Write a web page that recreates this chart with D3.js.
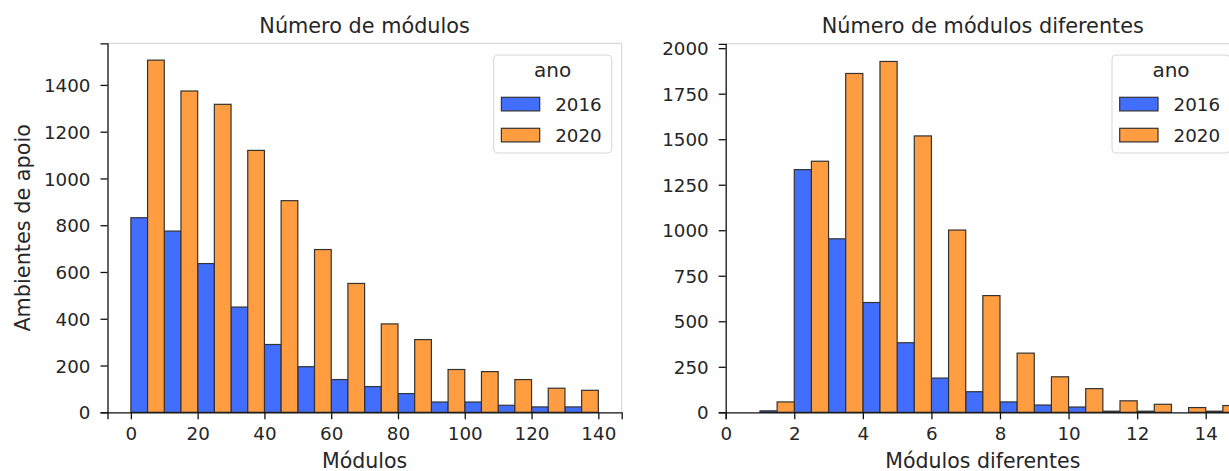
<!DOCTYPE html>
<html>
<head>
<meta charset="utf-8">
<script src="https://cdn.jsdelivr.net/npm/d3@7"></script>
<style>
  html, body { margin: 0; padding: 0; background: #fff; }
  svg { display: block; font-family: "DejaVu Sans", sans-serif; }
</style>
</head>
<body>
<svg id="chart" width="1229" height="471"></svg>
<script>
// ---------- data ----------
const years = ["2016", "2020"];

// Panel 1: Número de módulos (bins of width 10 starting at these values)
const modBinStarts = [0, 10, 20, 30, 40, 50, 60, 70, 80, 90, 100, 110, 120, 130];
const mod2016 = [832, 775, 636, 450, 290, 195, 140, 110, 80, 44, 44, 30, 23, 23];
const mod2020 = [1506, 1374, 1317, 1120, 905, 696, 551, 378, 311, 183, 174, 140, 103, 94];
const modTicksX = [0, 20, 40, 60, 80, 100, 120, 140];
const modTicksY = [0, 200, 400, 600, 800, 1000, 1200, 1400];

// Panel 2: Número de módulos diferentes (bins of width 1 starting at these values)
const difBinStarts = [1, 2, 3, 4, 5, 6, 7, 8, 9, 10, 11, 12, 13, 14];
const dif2016 = [8, 1333, 953, 603, 382, 188, 113, 57, 40, 29, 6, 6, 0, 6];
const dif2020 = [57, 1379, 1861, 1927, 1518, 1001, 641, 325, 195, 130, 63, 44, 26, 37];
const difTicksX = [0, 2, 4, 6, 8, 10, 12, 14];
const difTicksY = [0, 250, 500, 750, 1000, 1250, 1500, 1750, 2000];

const colors = { "2016": "#416eff", "2020": "#ff9d40" };
const edge = "#333333";
const textColor = "#262626";

const svg = d3.select("#chart");

function panel(opts) {
  const { left, right, top, bottom, xDomain, yDomain, binStarts, binWidth,
          s2016, s2020, ticksX, ticksY, title, xlabel, ylabel } = opts;
  const x = d3.scaleLinear().domain(xDomain).range([left, right]);
  const y = d3.scaleLinear().domain(yDomain).range([bottom, top]);
  const g = svg.append("g");

  // bars
  const half = binWidth / 2;
  const series = [
    { key: "2016", vals: s2016, off: 0 },
    { key: "2020", vals: s2020, off: half }
  ];
  series.forEach(s => {
    g.append("g").selectAll("rect")
      .data(binStarts.map((b, i) => ({ b, v: s.vals[i] })).filter(d => d.v > 0))
      .join("rect")
      .attr("x", d => x(d.b + s.off))
      .attr("width", d => x(d.b + s.off + half) - x(d.b + s.off))
      .attr("y", d => y(d.v))
      .attr("height", d => y(0) - y(d.v))
      .attr("fill", colors[s.key])
      .attr("stroke", edge)
      .attr("stroke-width", 1.2);
  });

  // top & right light spines
  g.append("line").attr("x1", left).attr("x2", right).attr("y1", top).attr("y2", top)
    .attr("stroke", "#cfcfcf").attr("stroke-width", 1);
  g.append("line").attr("x1", right).attr("x2", right).attr("y1", top).attr("y2", bottom)
    .attr("stroke", "#cfcfcf").attr("stroke-width", 1);

  // axes
  const ax = g.append("g").attr("transform", `translate(0,${bottom})`)
    .call(d3.axisBottom(x).tickValues(ticksX).tickSizeOuter(0).tickSize(7).tickPadding(8).tickFormat(d3.format("d")));
  const ay = g.append("g").attr("transform", `translate(${left},0)`)
    .call(d3.axisLeft(y).tickValues(ticksY).tickSizeOuter(0).tickSize(7).tickPadding(10).tickFormat(d3.format("d")));
  [ax, ay].forEach(a => {
    a.select(".domain").attr("stroke", "#111").attr("stroke-width", 1.3);
    a.selectAll(".tick line").attr("stroke", "#111").attr("stroke-width", 1.3);
    a.selectAll(".tick text").attr("fill", textColor).attr("font-size", 18.3)
      .attr("font-family", "DejaVu Sans");
  });
  ay.selectAll(".tick text").attr("dy", "0.36em");

  // title
  g.append("text").attr("x", (left + right) / 2).attr("y", 33)
    .attr("text-anchor", "middle").attr("font-size", 20.8).attr("fill", textColor).text(title);
  // x label
  g.append("text").attr("x", (left + right) / 2).attr("y", 467.5)
    .attr("text-anchor", "middle").attr("font-size", 20.5).attr("fill", textColor).text(xlabel);
  if (ylabel) {
    g.append("text").attr("transform", `translate(30,${(top + bottom) / 2}) rotate(-90)`)
      .attr("text-anchor", "middle").attr("font-size", 20.8).attr("fill", textColor).text(ylabel);
  }

  // legend
  const lx = right - 10 - 118, ly = 55;
  const lg = g.append("g").attr("transform", `translate(${lx},${ly})`);
  lg.append("rect").attr("width", 118).attr("height", 98).attr("rx", 4)
    .attr("fill", "#fff").attr("fill-opacity", 0.8).attr("stroke", "#d6d6d6").attr("stroke-width", 1);
  lg.append("text").attr("x", 59).attr("y", 21.7).attr("text-anchor", "middle")
    .attr("font-size", 20).attr("fill", textColor).text("ano");
  years.forEach((yr, i) => {
    lg.append("rect").attr("x", 7.7).attr("y", 42.3 + i * 31).attr("width", 38.3).attr("height", 13.6)
      .attr("fill", colors[yr]).attr("stroke", edge).attr("stroke-width", 1.2);
    lg.append("text").attr("x", 61.5).attr("y", 55.7 + i * 31)
      .attr("font-size", 18.3).attr("fill", textColor).text(yr);
  });
}

panel({
  left: 107.5, right: 621.7, top: 43.3, bottom: 412.3,
  xDomain: [-7, 147], yDomain: [0, 1578],
  binStarts: modBinStarts, binWidth: 10, s2016: mod2016, s2020: mod2020,
  ticksX: modTicksX, ticksY: modTicksY,
  title: "Número de módulos", xlabel: "Módulos", ylabel: "Ambientes de apoio"
});

panel({
  left: 725.7, right: 1240, top: 43.8, bottom: 412.3,
  xDomain: [0, 15], yDomain: [0, 2024],
  binStarts: difBinStarts, binWidth: 1, s2016: dif2016, s2020: dif2020,
  ticksX: difTicksX, ticksY: difTicksY,
  title: "Número de módulos diferentes", xlabel: "Módulos diferentes", ylabel: null
});
</script>
</body>
</html>
